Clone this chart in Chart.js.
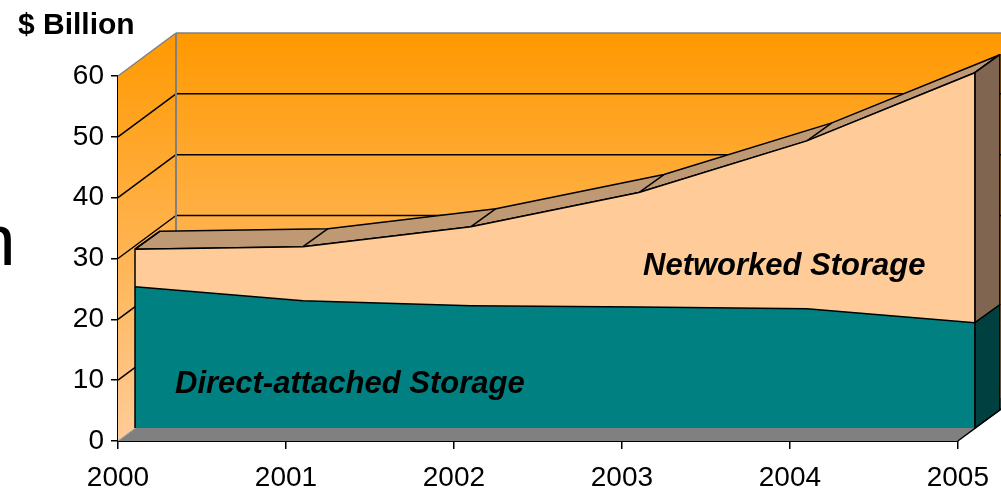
<!DOCTYPE html>
<html>
<head>
<meta charset="utf-8">
<title>Storage market</title>
<script src="https://cdn.jsdelivr.net/npm/chart.js@4.4.1/dist/chart.umd.min.js"></script>
<style>
  html, body { margin: 0; padding: 0; background: #fff; }
  #wrap { position: relative; width: 1001px; height: 490px; overflow: hidden; }
  #unit { position: absolute; left: 18px; top: 9px; font: bold 30px 'Liberation Sans', Arial, sans-serif; line-height: 30px; color: #000; }
  #frag { position: absolute; left: -25px; top: 203px; font: 73px 'Liberation Sans', Arial, sans-serif; line-height: 73px; color: #000; }
  canvas { position: absolute; left: 0; top: 0; }
</style>
</head>
<body>
<div id="wrap">
  <canvas id="storageChart" width="1001" height="490"></canvas>
  <div id="unit">$ Billion</div>
  <div id="frag">n</div>
</div>
<script>
// values ($ billion)
const years = ['2000', '2001', '2002', '2003', '2004', '2005'];
const directAttached = [23.2, 20.9, 20.1, 19.9, 19.6, 17.3];
const networked = [6.2, 8.9, 13.0, 18.8, 27.6, 41.1];
const yTicks = [0, 10, 20, 30, 40, 50, 60];

const FONT = "'Liberation Sans', Arial, sans-serif";

// 3D look: wall depth, front face of the series, thickness of the series
const WALL = { dx: 58, dy: -43 };
const FRONT = { dx: 17, dy: -13 };
const DEPTH = { dx: 25, dy: -18 };

function poly(ctx, pts, fill, stroke, lw) {
    ctx.beginPath();
    ctx.moveTo(pts[0][0], pts[0][1]);
    for (let i = 1; i < pts.length; i++) ctx.lineTo(pts[i][0], pts[i][1]);
    ctx.closePath();
    if (fill) { ctx.fillStyle = fill; ctx.fill(); }
    if (stroke) { ctx.strokeStyle = stroke; ctx.lineWidth = lw || 1.5; ctx.lineJoin = 'round'; ctx.stroke(); }
}

function line(ctx, x1, y1, x2, y2, color, lw) {
    ctx.beginPath();
    ctx.moveTo(x1, y1);
    ctx.lineTo(x2, y2);
    ctx.strokeStyle = color;
    ctx.lineWidth = lw || 1.5;
    ctx.stroke();
}

const box3d = {
    id: 'box3d',
    beforeDatasetsDraw(chart) {
        const { ctx, chartArea: a, scales: { x, y } } = chart;
        const yTop = y.getPixelForValue(60), y0 = y.getPixelForValue(0);

        ctx.save();
        const grad = ctx.createLinearGradient(0, yTop + WALL.dy, 0, y0);
        grad.addColorStop(0, '#FF9900');
        grad.addColorStop(1, '#FFCC99');

        // back wall, side wall, floor
        ctx.fillStyle = grad;
        ctx.fillRect(a.left + WALL.dx, yTop + WALL.dy, a.right - a.left, y0 - yTop);
        poly(ctx, [[a.left, yTop], [a.left + WALL.dx, yTop + WALL.dy], [a.left + WALL.dx, y0 + WALL.dy], [a.left, y0]], grad);
        poly(ctx, [[a.left, y0], [a.right, y0], [a.right + WALL.dx, y0 + WALL.dy], [a.left + WALL.dx, y0 + WALL.dy]], '#808080');
        line(ctx, a.left, y0, a.left + WALL.dx, y0 + WALL.dy, '#A0A0A0', 1);
        line(ctx, a.right, y0, a.right + WALL.dx, y0 + WALL.dy, '#000', 1.5);

        // wall grid lines (the lower ones end up behind the series)
        yTicks.forEach(v => {
            if (v === 0) return;
            const py = y.getPixelForValue(v);
            const c = v === 60 ? '#808080' : '#000';
            line(ctx, a.left, py, a.left + WALL.dx, py + WALL.dy, c, 1.5);
            if (v >= 30) line(ctx, a.left + WALL.dx, py + WALL.dy, a.right + WALL.dx, py + WALL.dy, c, 1.5);
        });
        line(ctx, a.left + WALL.dx, yTop + WALL.dy, a.left + WALL.dx, y0 + WALL.dy, '#808080', 2);

        // top face of the stack
        const front = years.map((_, i) => [
            x.getPixelForValue(i) + FRONT.dx,
            y.getPixelForValue(directAttached[i] + networked[i]) + FRONT.dy
        ]);
        const back = front.map(p => [p[0] + DEPTH.dx, p[1] + DEPTH.dy]);
        poly(ctx, front.concat(back.slice().reverse()), '#BF9973', '#000', 1.5);
        front.forEach((p, i) => line(ctx, p[0], p[1], back[i][0], back[i][1], '#000', 1.5));

        // right end faces
        const last = years.length - 1;
        const xr = x.getPixelForValue(last) + FRONT.dx;
        const yb = y0 + FRONT.dy;
        const yd = y.getPixelForValue(directAttached[last]) + FRONT.dy;
        const yt = y.getPixelForValue(directAttached[last] + networked[last]) + FRONT.dy;
        poly(ctx, [[xr, yd], [xr, yt], [xr + DEPTH.dx, yt + DEPTH.dy], [xr + DEPTH.dx, yd + DEPTH.dy]], '#806650', '#000', 1.5);
        poly(ctx, [[xr, yb], [xr, yd], [xr + DEPTH.dx, yd + DEPTH.dy], [xr + DEPTH.dx, yb + DEPTH.dy]], '#004040', '#000', 1.5);
        ctx.restore();

        // the series front face sits a little inside the box
        ctx.save();
        ctx.translate(FRONT.dx, FRONT.dy);
    },
    afterDatasetsDraw(chart) {
        const { ctx, scales: { x, y } } = chart;
        ctx.restore();

        ctx.save();
        const last = years.length - 1;
        const yb = y.getPixelForValue(0) + FRONT.dy;
        const xl = x.getPixelForValue(0) + FRONT.dx;
        const xr = x.getPixelForValue(last) + FRONT.dx;
        line(ctx, xl, yb, xl, y.getPixelForValue(directAttached[0] + networked[0]) + FRONT.dy, '#000', 1.5);
        line(ctx, xr, yb, xr, y.getPixelForValue(directAttached[last] + networked[last]) + FRONT.dy, '#000', 1.5);

        ctx.fillStyle = '#000';
        ctx.font = 'italic bold 31px ' + FONT;
        ctx.textBaseline = 'alphabetic';
        ctx.fillText('Direct-attached Storage', 175, 393);
        ctx.fillText('Networked Storage', 643, 275);
        ctx.restore();
    }
};

const tickFont = { family: FONT, size: 28 };

new Chart(document.getElementById('storageChart'), {
    type: 'line',
    data: {
        labels: years,
        datasets: [
            {
                label: 'Direct-attached Storage',
                data: directAttached,
                fill: 'origin',
                backgroundColor: '#008080',
                borderColor: '#000',
                borderWidth: 1.5,
                pointRadius: 0,
                tension: 0
            },
            {
                label: 'Networked Storage',
                data: networked,
                fill: '-1',
                backgroundColor: '#FFCC99',
                borderColor: '#000',
                borderWidth: 1.5,
                pointRadius: 0,
                tension: 0
            }
        ]
    },
    options: {
        responsive: false,
        animation: false,
        devicePixelRatio: 1,
        layout: { padding: { left: 0, top: 76, right: 43, bottom: 0 } },
        plugins: { legend: { display: false }, tooltip: { enabled: false } },
        scales: {
            x: {
                offset: false,
                grid: { offset: false, drawOnChartArea: false, tickLength: 8, color: '#000', lineWidth: 1.5 },
                border: { color: '#000', width: 2 },
                ticks: { font: tickFont, color: '#000', maxRotation: 0, autoSkip: false, padding: 12 },
                afterFit: s => { s.height = 49; }
            },
            y: {
                stacked: true,
                min: 0,
                max: 60,
                grid: { drawOnChartArea: false, tickLength: 7, color: '#000', lineWidth: 1.5 },
                border: { color: '#000', width: 2 },
                ticks: { stepSize: 10, font: tickFont, color: '#000', padding: 7 },
                afterFit: s => { s.width = 118; }
            }
        }
    },
    plugins: [box3d]
});
</script>
</body>
</html>
